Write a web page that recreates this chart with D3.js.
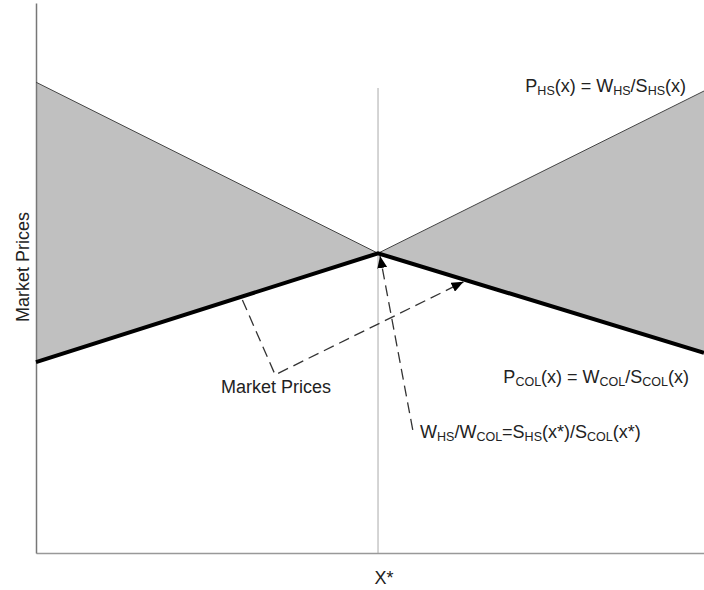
<!DOCTYPE html>
<html><head><meta charset="utf-8">
<script src="https://cdn.jsdelivr.net/npm/d3@7"></script>
<style>body{margin:0;background:#fff}svg{display:block}text{font-family:"Liberation Sans",Arial,sans-serif;fill:#222}</style>
</head><body>
<svg id="c" width="704" height="590"></svg>
<script>
// data (x in 0..100, y in 0..100)
const xStar = 51.2;
const hsLine = [[0, 85.6], [xStar, 54.5], [100, 84.0]];
const colLine = [[0, 34.7], [xStar, 54.5], [100, 36.4]];
const dashMarket = [[30.9, 46.0], [35.8, 32.4], [64.0, 49.3]];
const dashRatio = [[56.4, 22.4], [51.5, 54.0]];
const labelHS = ["P", "HS", "(x) = W", "HS", "/S", "HS", "(x)"];
const labelCOL = ["P", "COL", "(x) = W", "COL", "/S", "COL", "(x)"];
const labelRatio = ["W", "HS", "/W", "COL", "=S", "HS", "(x*)/S", "COL", "(x*)"];

const svg = d3.select("#c");
const x = d3.scaleLinear().domain([0, 100]).range([36, 704]);
const y = d3.scaleLinear().domain([0, 100]).range([553, 3]);

// shaded areas
const area = d3.area().x(d => x(d[0])).y0(d => y(d[1])).y1(d => y(d[2]));
const leftArea = [[0, hsLine[0][1], colLine[0][1]], [xStar, hsLine[1][1], colLine[1][1]]];
const rightArea = [[xStar, hsLine[1][1], colLine[1][1]], [100, hsLine[2][1], colLine[2][1]]];
svg.append("path").attr("d", area(leftArea)).attr("fill", "#c0c0c0");
svg.append("path").attr("d", area(rightArea)).attr("fill", "#c0c0c0");

// axes
const xAxis = d3.axisBottom(x).tickValues([]).tickSizeOuter(0);
const yAxis = d3.axisLeft(y).tickValues([]).tickSizeOuter(0);
svg.append("g").attr("transform", `translate(0,${y(0)})`).call(xAxis)
  .select(".domain").attr("stroke", "#999").attr("stroke-width", 1.5);
svg.append("g").attr("transform", `translate(${x(0)},0)`).call(yAxis)
  .select(".domain").attr("stroke", "#777").attr("stroke-width", 1.5);

// vertical X* line
svg.append("line").attr("x1", x(xStar)).attr("x2", x(xStar)).attr("y1", 88).attr("y2", y(0))
  .attr("stroke", "#aaa").attr("stroke-width", 1);

const line = d3.line().x(d => x(d[0])).y(d => y(d[1]));
svg.append("path").attr("d", line(hsLine)).attr("fill", "none").attr("stroke", "#444").attr("stroke-width", 1);
svg.append("path").attr("d", line(colLine)).attr("fill", "none").attr("stroke", "#000").attr("stroke-width", 4)
  .attr("stroke-linejoin", "miter");

// arrow marker
svg.append("defs").append("marker").attr("id", "arr").attr("viewBox", "0 0 12 10")
  .attr("refX", 12).attr("refY", 5).attr("markerWidth", 12).attr("markerHeight", 10)
  .attr("markerUnits", "userSpaceOnUse").attr("orient", "auto")
  .append("path").attr("d", "M0,0 L12,5 L0,10 Z").attr("fill", "#000");

const dashStyle = p => p.attr("fill", "none").attr("stroke", "#333").attr("stroke-width", 1.3)
  .attr("stroke-dasharray", "11,6").attr("marker-end", "url(#arr)");
svg.append("path").attr("d", line(dashMarket)).call(dashStyle);
svg.append("path").attr("d", line(dashRatio)).call(dashStyle);

// labels
function subLabel(parts, px, py, anchor) {
  const t = svg.append("text").attr("x", px).attr("y", py).attr("font-size", 18).attr("text-anchor", anchor);
  parts.forEach((s, i) => {
    const sub = i % 2 === 1;
    t.append("tspan").text(s).attr("font-size", sub ? 12.5 : 18).attr("dy", sub ? 3 : (i > 0 ? -3 : 0));
  });
}
subLabel(labelHS, 686, 92, "end");
subLabel(labelCOL, 689, 383, "end");
subLabel(labelRatio, 420, 438, "start");

svg.append("text").attr("x", 276).attr("y", 393).attr("font-size", 18).attr("text-anchor", "middle").text("Market Prices");
svg.append("text").attr("transform", `translate(29,${267}) rotate(-90)`).attr("font-size", 18)
  .attr("text-anchor", "middle").text("Market Prices");
svg.append("text").attr("x", 384).attr("y", 584).attr("font-size", 18).attr("text-anchor", "middle").text("X*");
</script>
</body></html>
